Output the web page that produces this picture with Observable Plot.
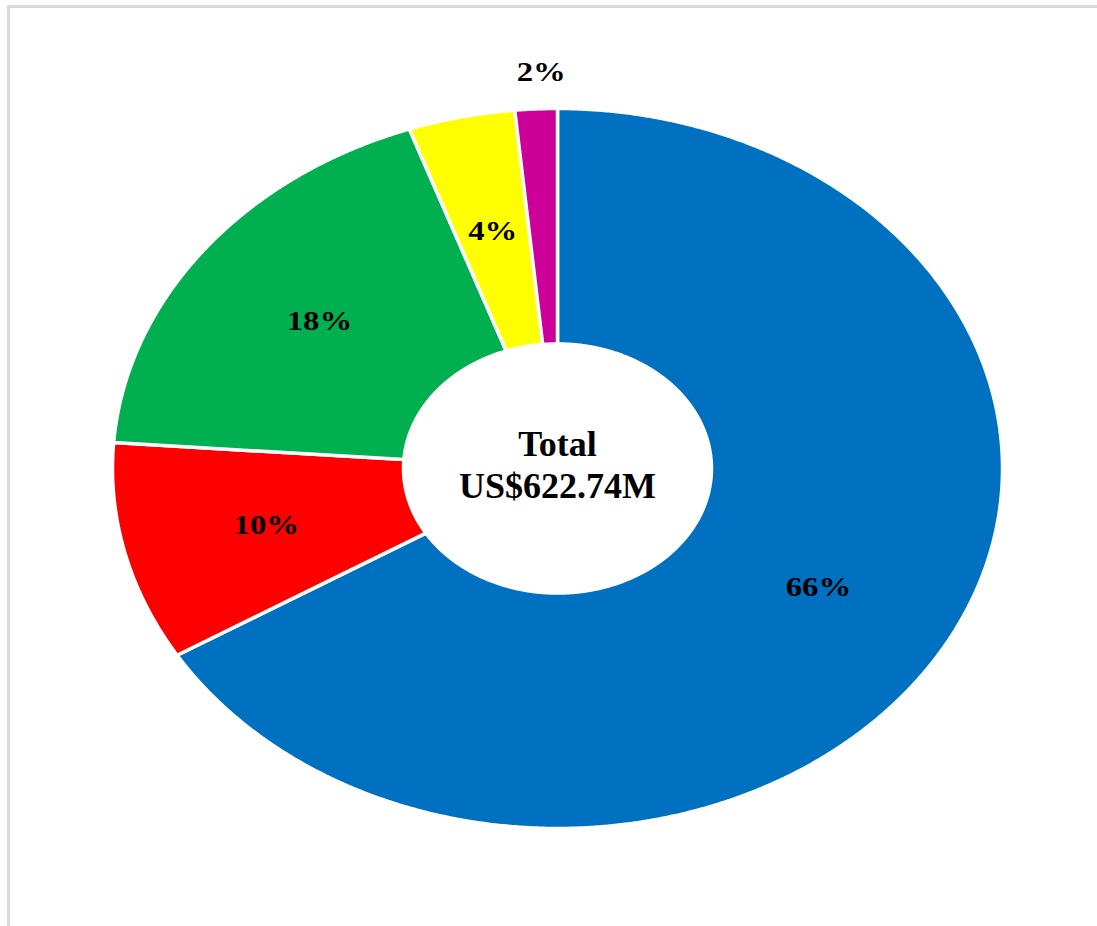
<!DOCTYPE html>
<html>
<head>
<meta charset="utf-8">
<script src="https://cdn.jsdelivr.net/npm/d3@7"></script>
<script src="https://cdn.jsdelivr.net/npm/@observablehq/plot@0.6"></script>
<style>
  html, body { margin: 0; padding: 0; background: #fff; }
  #wrap { position: relative; width: 1097px; height: 926px; overflow: hidden; }
  #frame { position: absolute; left: 7px; top: 5px; right: 0; bottom: 0;
           border-top: 3px solid #d9d9d9; border-left: 3px solid #d9d9d9; }
  #chart { position: absolute; left: 0; top: 0; }
</style>
</head>
<body>
<div id="wrap"><div id="frame"></div><div id="chart"></div></div>
<script>
// ---- data (US$ millions) ----
const categories = ["Category A", "Category B", "Category C", "Category D", "Category E"];
const values = [413.0, 61.2, 114.9, 24.1, 9.54];
const colors = ["#0070C0", "#FF0000", "#00B050", "#FFFF00", "#CC0099"];
const centerTitle = "Total";

// ---- geometry ----
const total = d3.sum(values);
const innerR = 0.346;
const arcs = d3.pie().sort(null).value(d => d)(values);

const pts = [];
arcs.forEach((a, i) => {
  const a0 = a.startAngle, a1 = a.endAngle;
  const n = Math.max(8, Math.ceil((a1 - a0) / 0.005));
  const ring = [];
  for (let k = 0; k <= n; k++) {
    const t = a0 + (a1 - a0) * k / n;
    ring.push({cat: categories[i], x: Math.sin(t), y: Math.cos(t)});
  }
  for (let k = n; k >= 0; k--) {
    const t = a0 + (a1 - a0) * k / n;
    ring.push({cat: categories[i], x: innerR * Math.sin(t), y: innerR * Math.cos(t)});
  }
  ring.push({...ring[0]});
  pts.push(...ring);
});

const labels = arcs.map((a, i) => {
  const share = values[i] / total * 100;
  const mid = (a.startAngle + a.endAngle) / 2;
  const outside = share < 3;
  const r = outside ? 1.10 : (1 + innerR) / 2;
  const ang = outside ? mid + 0.015 : mid;
  return {x: r * Math.sin(ang), y: r * Math.cos(ang), text: Math.round(share) + "%"};
});

const serif = "'Liberation Serif', 'Times New Roman', serif";

const plot = Plot.plot({
  width: 1097,
  height: 926,
  margin: 0,
  x: {domain: [-1, 1], range: [112, 1002], axis: null},
  y: {domain: [-1, 1], range: [828, 108], axis: null},
  color: {domain: categories, range: colors},
  style: {fontFamily: serif, background: "transparent"},
  marks: [
    Plot.line(pts, {x: "x", y: "y", z: "cat", fill: "cat", stroke: "white", strokeWidth: 3.5, curve: "linear"}),
    Plot.text(labels, {x: "x", y: "y", text: "text", fontSize: 26.5, fontWeight: "bold", fontFamily: serif, fill: "black", className: "pct"}),
    Plot.text([{x: 0, y: 0}], {x: "x", y: "y", text: () => centerTitle, dy: -24.5, fontSize: 36, fontWeight: "bold", fontFamily: serif, fill: "black"}),
    Plot.text([{x: 0, y: 0}], {x: "x", y: "y", text: () => "US$" + total.toFixed(2) + "M", dy: 17.5, fontSize: 36, fontWeight: "bold", fontFamily: serif, fill: "black"})
  ]
});
document.getElementById("chart").appendChild(plot);

// percentage labels in the reference are horizontally stretched like the ellipse
d3.select(plot).selectAll(".pct text").each(function () {
  const len = this.getComputedTextLength();
  this.setAttribute("textLength", (len * 1.236).toFixed(1));
  this.setAttribute("lengthAdjust", "spacingAndGlyphs");
});
</script>
</body>
</html>
